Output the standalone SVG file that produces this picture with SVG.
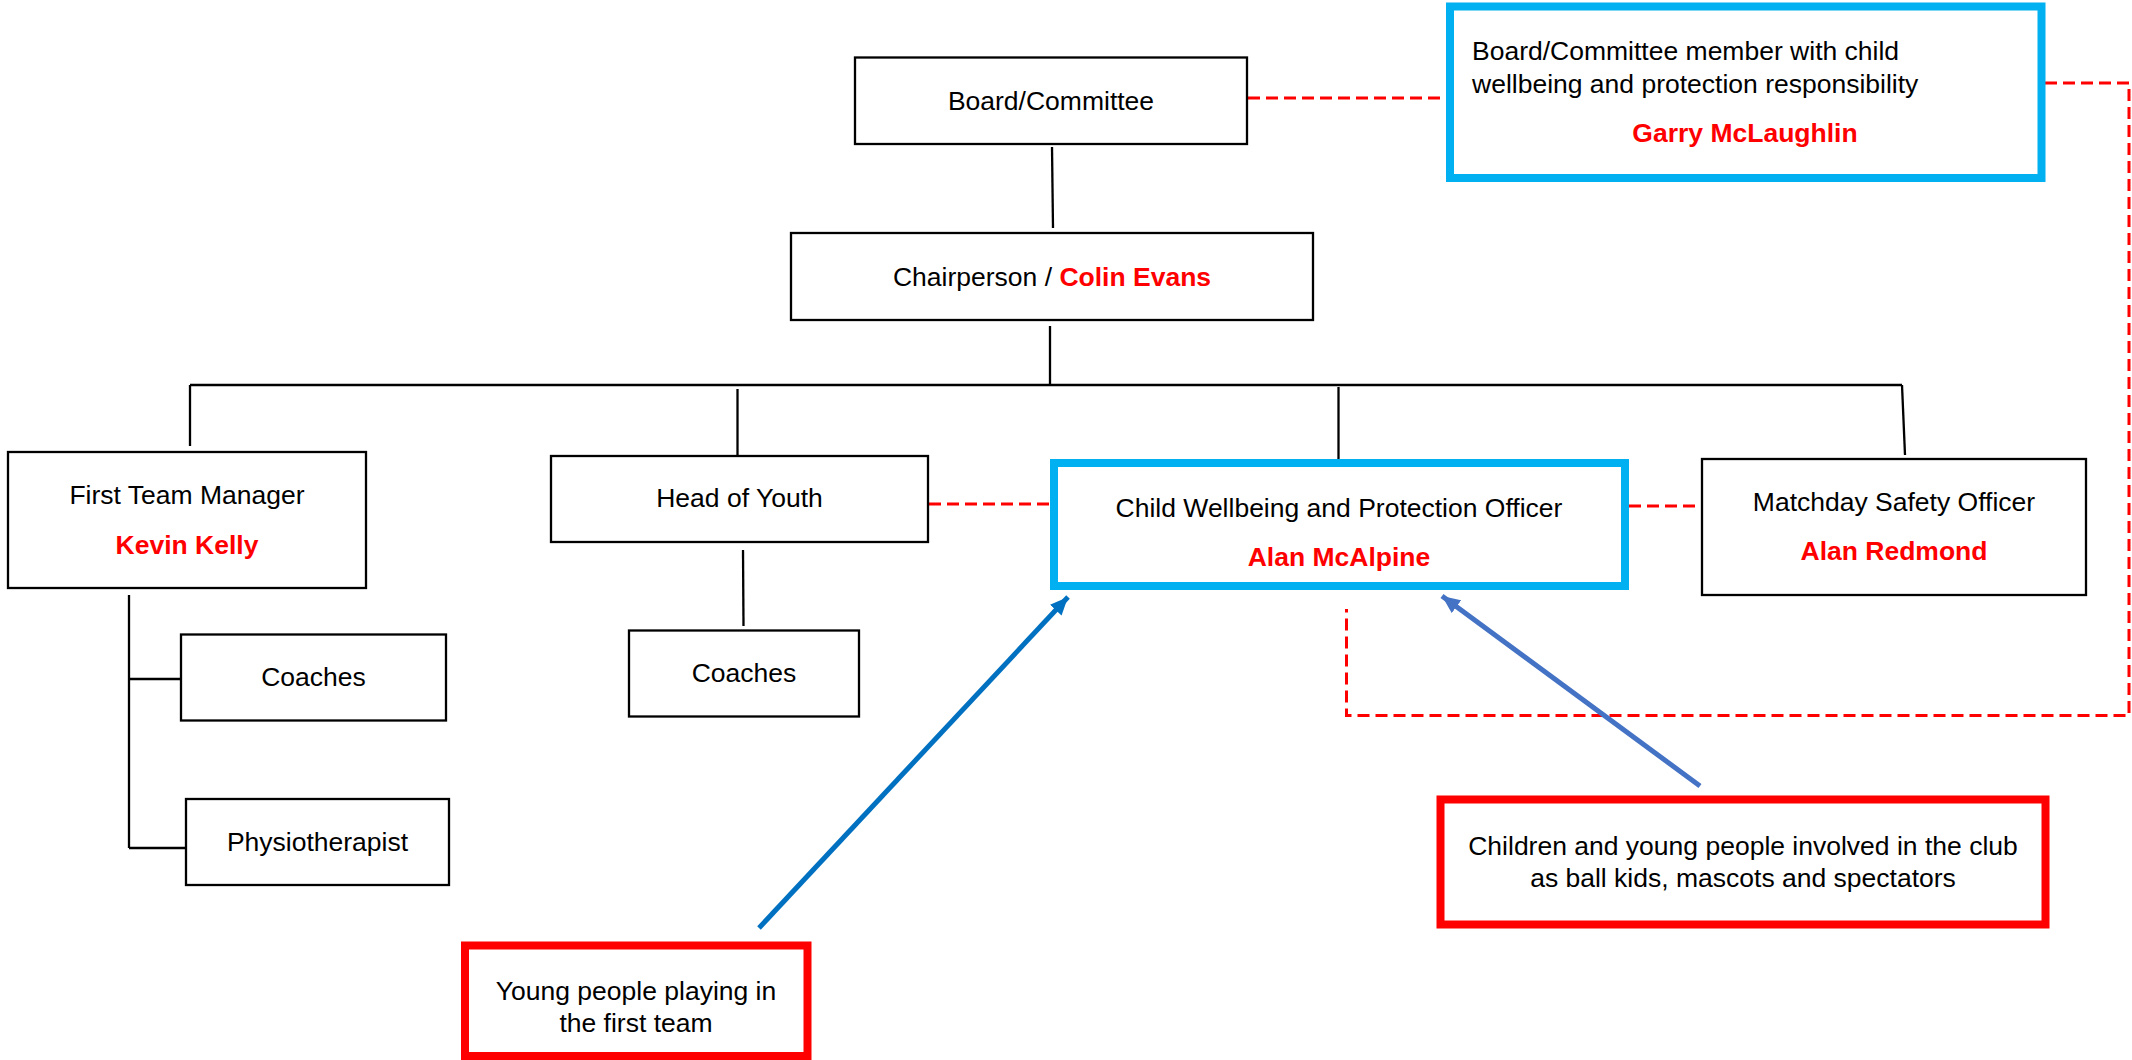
<svg xmlns="http://www.w3.org/2000/svg" width="2132" height="1060" viewBox="0 0 2132 1060">
<style>
text{font-family:"Liberation Sans",Arial,sans-serif;font-size:26.5px;fill:#000}
.c{text-anchor:middle}
.n{fill:#FF0000;font-weight:bold}
.box{fill:#fff;stroke:#000;stroke-width:2.3}
.blue{fill:#fff;stroke:#00B0F0;stroke-width:8}
.red{fill:#fff;stroke:#FF0000;stroke-width:8}
.ln{stroke:#000;stroke-width:2.3;fill:none}
.dash{stroke:#FF0000;stroke-width:3;stroke-dasharray:12 6;fill:none}
</style>
<defs>
<marker id="ah1" markerUnits="userSpaceOnUse" markerWidth="20" markerHeight="16" refX="18" refY="8" orient="auto"><path d="M0,0 L18,8 L0,16 Z" fill="#0070C0"/></marker>
<marker id="ah2" markerUnits="userSpaceOnUse" markerWidth="20" markerHeight="16" refX="18" refY="8" orient="auto"><path d="M0,0 L18,8 L0,16 Z" fill="#4472C4"/></marker>
</defs>
<rect width="2132" height="1060" fill="#fff"/>
<g id="connectors">
<line class="ln" x1="1052" y1="147" x2="1053" y2="228"/>
<line class="ln" x1="1050" y1="326" x2="1050" y2="386"/>
<line class="ln" x1="190" y1="385" x2="1902" y2="385"/>
<line class="ln" x1="190" y1="385" x2="190" y2="446"/>
<line class="ln" x1="737.5" y1="389" x2="737.5" y2="455"/>
<line class="ln" x1="1338.5" y1="387" x2="1338.5" y2="459"/>
<line class="ln" x1="1902" y1="385" x2="1905" y2="455"/>
<line class="ln" x1="129" y1="595" x2="129" y2="848"/>
<line class="ln" x1="129" y1="679" x2="181" y2="679"/>
<line class="ln" x1="129" y1="848" x2="186" y2="848"/>
<line class="ln" x1="743" y1="550" x2="743.5" y2="626"/>
<line class="dash" x1="1248" y1="98" x2="1447" y2="98"/>
<line class="dash" x1="929" y1="504" x2="1050" y2="504"/>
<line class="dash" x1="1629" y1="506" x2="1702" y2="506"/>
<polyline class="dash" points="2045,83 2129,83 2129,715.5 1346.5,715.5 1346.5,609"/>
<line x1="759" y1="928" x2="1068" y2="597" stroke="#0070C0" stroke-width="5" marker-end="url(#ah1)"/>
<line x1="1700" y1="786" x2="1442" y2="596" stroke="#4472C4" stroke-width="5" marker-end="url(#ah2)"/>
</g>
<g id="board">
<rect class="box" x="855" y="57.5" width="392" height="86.5"/>
<text class="c" x="1051" y="110">Board/Committee</text>
</g>
<g id="bcm">
<rect class="blue" x="1450" y="6.5" width="591.5" height="171.5"/>
<text x="1472" y="60">Board/Committee member with child</text>
<text x="1472" y="93">wellbeing and protection responsibility</text>
<text class="c n" x="1745" y="142">Garry McLaughlin</text>
</g>
<g id="chair">
<rect class="box" x="791" y="233" width="522" height="87"/>
<text class="c" x="1052" y="286">Chairperson / <tspan class="n">Colin Evans</tspan></text>
</g>
<g id="ftm">
<rect class="box" x="8" y="452" width="358" height="136"/>
<text class="c" x="187" y="504">First Team Manager</text>
<text class="c n" x="187" y="554">Kevin Kelly</text>
</g>
<g id="hoy">
<rect class="box" x="551" y="456" width="377" height="86"/>
<text class="c" x="739.5" y="507">Head of Youth</text>
</g>
<g id="cwpo">
<rect class="blue" x="1054" y="463" width="571" height="123"/>
<text class="c" x="1339" y="517">Child Wellbeing and Protection Officer</text>
<text class="c n" x="1339" y="565.5">Alan McAlpine</text>
</g>
<g id="mso">
<rect class="box" x="1702" y="459" width="384" height="136"/>
<text class="c" x="1894" y="510.5">Matchday Safety Officer</text>
<text class="c n" x="1894" y="560">Alan Redmond</text>
</g>
<g id="coaches1">
<rect class="box" x="181" y="634.5" width="265" height="86"/>
<text class="c" x="313.5" y="685.5">Coaches</text>
</g>
<g id="physio">
<rect class="box" x="186" y="799" width="263" height="86"/>
<text class="c" x="317.5" y="850.5">Physiotherapist</text>
</g>
<g id="coaches2">
<rect class="box" x="629" y="630.5" width="230" height="86"/>
<text class="c" x="744" y="681.5">Coaches</text>
</g>
<g id="young">
<rect class="red" x="465" y="945.5" width="342.5" height="110.5"/>
<text class="c" x="636" y="1000">Young people playing in</text>
<text class="c" x="636" y="1032">the first team</text>
</g>
<g id="children">
<rect class="red" x="1440.5" y="799.5" width="605" height="125"/>
<text class="c" x="1743" y="854.5">Children and young people involved in the club</text>
<text class="c" x="1743" y="887">as ball kids, mascots and spectators</text>
</g>
</svg>
